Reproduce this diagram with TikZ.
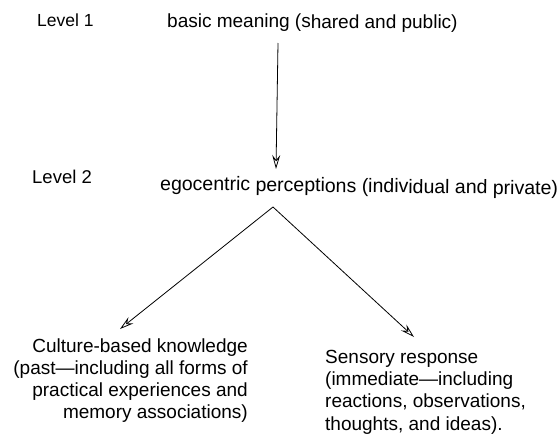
\documentclass[tikz,border=0pt]{standalone}
\usepackage{fontspec}
\setmainfont{Liberation Sans}
\usetikzlibrary{arrows.meta}
\begin{document}
\begin{tikzpicture}[x=1pt,y=-1pt,
  lbl/.style={inner sep=0pt,font=\fontsize{19}{21.7}\selectfont},
  conn/.style={line width=0.8pt,-{Stealth[open,length=14pt,width=8pt,inset=5pt]}}]
\useasboundingbox (0,0) rectangle (559,439);
\node[lbl,anchor=base west,font=\fontsize{17.5}{21}\selectfont] (l1) at (37,27) {Level 1};
\node[lbl,anchor=base west,rotate=-0.4] (basic) at (167,27) {basic meaning (shared and public)};
\node[lbl,anchor=base west,font=\fontsize{18.5}{21}\selectfont] (l2) at (32,183) {Level 2};
\node[lbl,anchor=base west,rotate=-0.7,font=\fontsize{19.5}{22}\selectfont] (ego) at (160,190) {egocentric perceptions (individual and private)};
\node[lbl,anchor=base east,align=right] (cult) at (248,418)
  {Culture-based knowledge\\(past---including all forms of\\practical experiences and\\memory associations)};
\node[lbl,anchor=base west,align=left,font=\fontsize{19}{22.3}\selectfont] (sens) at (325,430)
  {Sensory response\\(immediate---including\\reactions, observations,\\thoughts, and ideas).};
\coordinate (a1s) at (278,43);
\coordinate (a1e) at (276,169);
\coordinate (apex) at (273,207);
\coordinate (ltip) at (120,329);
\coordinate (rtip) at (414,337);
\draw[conn] (a1s) -- (a1e);
\draw[conn] (apex) -- (ltip);
\draw[conn] (apex) -- (rtip);
\end{tikzpicture}
\end{document}
